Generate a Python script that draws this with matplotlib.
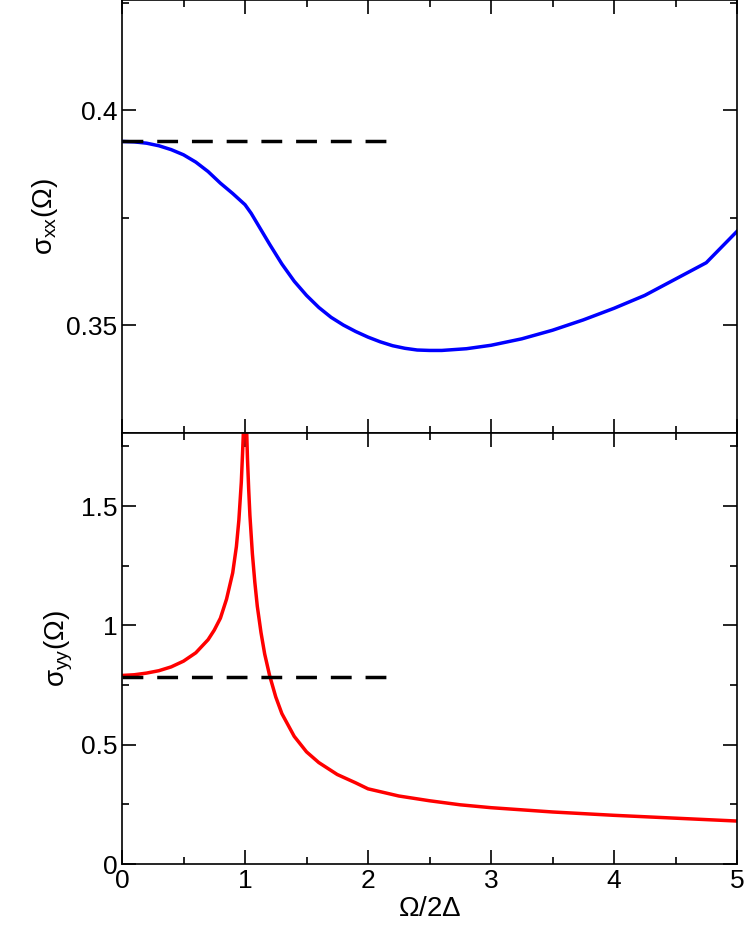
import matplotlib
matplotlib.use("Agg")
import matplotlib.pyplot as plt
from matplotlib.ticker import MultipleLocator

plt.rcParams['font.family'] = ['Liberation Sans', 'DejaVu Sans']
plt.rcParams['mathtext.fontset'] = 'custom'
plt.rcParams['mathtext.rm'] = 'Liberation Sans'
plt.rcParams['mathtext.it'] = 'Liberation Sans'

x_top = [0, 0.1, 0.2, 0.3, 0.4, 0.5, 0.6, 0.7, 0.8, 0.9, 1.0, 1.05, 1.1, 1.2, 1.3, 1.4, 1.5, 1.6, 1.7, 1.8, 1.9, 2.0,
         2.1, 2.2, 2.3, 2.4, 2.5, 2.6, 2.8, 3.0, 3.25, 3.5, 3.75, 4.0, 4.25, 4.5, 4.75, 5.0]
y_top = [0.3927, 0.3926, 0.3923, 0.3917, 0.3908, 0.3896, 0.3879, 0.3857, 0.3830, 0.3806, 0.3780, 0.3760, 0.3736, 0.3688,
         0.3642, 0.3602, 0.3569, 0.3541, 0.3518, 0.3500, 0.3485, 0.3472, 0.3461, 0.3452, 0.3446, 0.3442, 0.3441, 0.3441,
         0.3445, 0.3453, 0.3468, 0.3488, 0.3512, 0.3539, 0.3569, 0.3607, 0.3645, 0.3718]

x_bot = [0, 0.1, 0.2, 0.3, 0.4, 0.5, 0.6, 0.7, 0.75, 0.8, 0.85, 0.9, 0.93, 0.95, 0.97, 0.98, 0.99, 1.0, 1.005, 1.01,
         1.02, 1.03, 1.04, 1.06, 1.08, 1.1, 1.13, 1.16, 1.2, 1.25, 1.3, 1.4, 1.5, 1.6, 1.75, 1.9, 2.0, 2.25, 2.5, 2.75,
         3.0, 3.5, 4.0, 4.5, 5.0]
y_bot = [0.79, 0.793, 0.80, 0.81, 0.826, 0.85, 0.885, 0.94, 0.98, 1.03, 1.11, 1.22, 1.33, 1.44, 1.60, 1.72, 1.85, 2.2,
         2.0, 1.88, 1.70, 1.57, 1.46, 1.30, 1.18, 1.08, 0.97, 0.88, 0.79, 0.70, 0.63, 0.535, 0.47, 0.425, 0.375, 0.34,
         0.315, 0.285, 0.265, 0.248, 0.236, 0.218, 0.204, 0.192, 0.18]

dash_x = [0, 2.2]
dash_top = [0.3927, 0.3927]
dash_bot = [0.785, 0.785]

fig = plt.figure(figsize=(7.47, 9.40), dpi=100)
ax1 = fig.add_axes([122/747, 1-433/940, 615/747, 433/940])
ax2 = fig.add_axes([122/747, 1-864/940, 615/747, 431/940], sharex=ax1)

ax1.plot(x_top, y_top, color='#0000ff', lw=2.5)
ax1.plot(dash_x, dash_top, 'k--', lw=2.5, dashes=(6, 4))
ax2.plot(x_bot, y_bot, color='#ff0000', lw=2.5)
ax2.plot(dash_x, dash_bot, 'k--', lw=2.5, dashes=(6, 4))

ax1.set_xlim(0, 5)
ax1.set_ylim(0.3249, 0.4256)
ax2.set_ylim(0, 1.806)

for ax in (ax1, ax2):
    ax.xaxis.set_major_locator(MultipleLocator(1))
    ax.xaxis.set_minor_locator(MultipleLocator(0.5))
    ax.tick_params(which='both', direction='in', top=True, right=True, labelsize=19)
    ax.tick_params(which='major', length=10, width=1.2)
    ax.tick_params(which='minor', length=5, width=1.2)
    for s in ax.spines.values():
        s.set_linewidth(1.2)
ax1.yaxis.set_major_locator(MultipleLocator(0.05))
ax1.yaxis.set_minor_locator(MultipleLocator(0.025))
ax1.set_yticks([0.35, 0.4])
ax1.set_yticklabels(['0.35', '0.4'])
ax2.yaxis.set_minor_locator(MultipleLocator(0.25))
ax1.tick_params(labelbottom=False)
ax2.set_yticks([0, 0.5, 1, 1.5])
ax2.set_yticklabels(['0', '0.5', '1', '1.5'])

ax1.set_ylabel(r'$\sigma_{xx}(\Omega)$', fontsize=20)
ax2.set_ylabel(r'$\sigma_{yy}(\Omega)$', fontsize=20)
ax2.set_xlabel(r'$\Omega/2\Delta$', fontsize=20, labelpad=2)

fig.savefig('out.png', dpi=100)
